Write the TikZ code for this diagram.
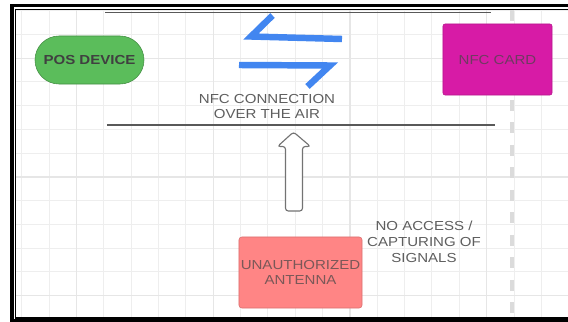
\documentclass[tikz,border=0pt]{standalone}
\usepackage{fontspec}
\setmainfont[FakeStretch=1.15]{Liberation Sans}
\definecolor{gridminor}{HTML}{EEEEEE}
\definecolor{gridmajor}{HTML}{E6E6E6}
\definecolor{posgreen}{HTML}{5BBD5B}
\definecolor{cardpink}{HTML}{D71BA6}
\definecolor{antred}{HTML}{FF8585}
\definecolor{boltblue}{HTML}{4286F0}
\definecolor{notegray}{HTML}{5E5E5E}
\begin{document}
\begin{tikzpicture}[x=0.025cm,y=-0.025cm,
  txt/.style={font=\fontsize{9.3}{11.2}\selectfont,align=center,inner sep=0pt},
  note/.style={txt,text=notegray},
  posbox/.style={txt,font=\fontsize{9.3}{11.2}\selectfont\bfseries,fill=posgreen,draw=posgreen!75!black,
    text=black!75,minimum width=2.725cm,minimum height=1.2cm,rounded corners=0.6cm},
  cardbox/.style={txt,fill=cardpink,draw=cardpink!85!black,text=cardpink!35!black!80,
    minimum width=2.725cm,minimum height=1.775cm,rounded corners=1.5pt},
  antbox/.style={txt,fill=antred,draw=antred!85!black,text=antred!35!black!80,
    minimum width=3.075cm,minimum height=1.775cm,rounded corners=2pt},
  bolt/.style={boltblue,line width=4.6pt,line join=miter},
  rule/.style={black!65,line width=1.1pt}]
\useasboundingbox (0,0) rectangle (568,322);
\clip (0,0) rectangle (568,322);

\foreach \k in {0,...,20} \draw[gridminor,line width=0.7pt] (21.7+27.35*\k,9) -- (21.7+27.35*\k,320);
\foreach \k in {0,...,13} \draw[gridminor,line width=0.7pt] (15,10.7+23.75*\k) -- (568,10.7+23.75*\k);
\foreach \k in {2,7,12,17} \draw[gridmajor,line width=0.9pt] (21.7+27.35*\k,9) -- (21.7+27.35*\k,320);
\foreach \k in {2,7,12} \draw[gridmajor,line width=0.9pt] (15,10.7+23.75*\k) -- (568,10.7+23.75*\k);

\draw[black!14,line width=2.8pt,dash pattern=on 7.8pt off 8.2pt] (511.7,10) -- (511.7,318);

\draw[rule] (105,12.5) -- (491,12.5);
\draw[rule] (107,125) -- (495,125);

\draw[bolt] (272.5,15.5) -- (251,36.5) -- (342,39);
\draw[bolt] (239,65) -- (330,65.5) -- (307.5,86.5);

\node[posbox] (pos) at (89.5,60) {POS DEVICE};
\node[cardbox] (card) at (497.5,59.5) {NFC CARD};
\node[antbox] (antenna) at (300.5,272.5) {UNAUTHORIZED\\ANTENNA};
\node[note] (conn) at (267,106.5) {NFC CONNECTION\\OVER THE AIR};
\node[note] (noaccess) at (424,242) {NO ACCESS /\\CAPTURING OF\\SIGNALS};

\draw[black!55,fill=white,line width=0.8pt,rounded corners=2pt]
  (285.5,211) -- (285.5,146.5) -- (277.5,146.5) -- (293.5,132) -- (310.5,146.5)
  -- (302.5,146.5) -- (302.5,211) -- cycle;

\draw[line width=2.5pt] (600,5.6) -- (12,5.6) -- (12,320.6) -- (600,320.6);
\draw[line width=0.8pt] (600,9.6) -- (15.9,9.6) -- (15.9,318) -- (600,318);
\end{tikzpicture}
\end{document}
